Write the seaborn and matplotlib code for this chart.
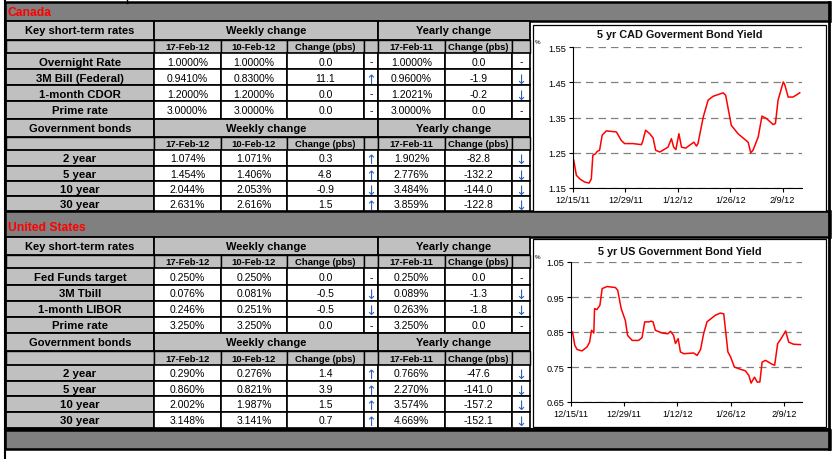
import matplotlib
matplotlib.use("Agg")
import matplotlib.pyplot as plt
import seaborn as sns
import pandas as pd
from matplotlib.patches import Rectangle

FONT = ["Liberation Sans", "DejaVu Sans"]

# ---------------- data ----------------
date_cols = ["17-Feb-12", "10-Feb-12", "17-Feb-11"]

ca_short_labels = ["Overnight Rate", "3M Bill (Federal)", "1-month CDOR", "Prime rate"]
ca_short_cur = [1.0000, 0.9410, 1.2000, 3.0000]
ca_short_prev = [1.0000, 0.8300, 1.2000, 3.0000]
ca_short_wchg = [0.0, 11.1, 0.0, 0.0]
ca_short_yago = [1.0000, 0.9600, 1.2021, 3.0000]
ca_short_ychg = [0.0, -1.9, -0.2, 0.0]

ca_bond_labels = ["2 year", "5 year", "10 year", "30 year"]
ca_bond_cur = [1.074, 1.454, 2.044, 2.631]
ca_bond_prev = [1.071, 1.406, 2.053, 2.616]
ca_bond_wchg = [0.3, 4.8, -0.9, 1.5]
ca_bond_yago = [1.902, 2.776, 3.484, 3.859]
ca_bond_ychg = [-82.8, -132.2, -144.0, -122.8]

us_short_labels = ["Fed Funds target", "3M Tbill", "1-month LIBOR", "Prime rate"]
us_short_cur = [0.250, 0.076, 0.246, 3.250]
us_short_prev = [0.250, 0.081, 0.251, 3.250]
us_short_wchg = [0.0, -0.5, -0.5, 0.0]
us_short_yago = [0.250, 0.089, 0.263, 3.250]
us_short_ychg = [0.0, -1.3, -1.8, 0.0]

us_bond_labels = ["2 year", "5 year", "10 year", "30 year"]
us_bond_cur = [0.290, 0.860, 2.002, 3.148]
us_bond_prev = [0.276, 0.821, 1.987, 3.141]
us_bond_wchg = [1.4, 3.9, 1.5, 0.7]
us_bond_yago = [0.766, 2.270, 3.574, 4.669]
us_bond_ychg = [-47.6, -141.0, -157.2, -152.1]

# chart series: days since 12/15/11
cad_days = [0.2, 0.9, 1.8, 3.1, 4.3, 4.9, 5.3, 6.0, 6.5, 7.1, 7.8, 8.9, 11.6, 12.9, 13.8,
            16.0, 18.3, 18.7, 19.4, 20.5, 21.4, 22.1, 23.2, 25.4, 26.3, 26.9, 27.5, 28.3,
            29.0, 30.1, 32.3, 33.0, 33.4, 34.8, 36.1, 37.4, 40.1, 40.8, 42.3, 44.1, 46.8,
            47.5, 48.1, 49.5, 50.5, 51.7, 53.5, 54.1, 54.8, 56.2, 56.6, 57.5, 58.8, 60.6]
cad_yield = [1.229, 1.186, 1.176, 1.167, 1.164, 1.176, 1.243, 1.247, 1.254, 1.257, 1.300,
             1.312, 1.309, 1.285, 1.276, 1.276, 1.273, 1.285, 1.314, 1.304, 1.292, 1.257,
             1.252, 1.266, 1.290, 1.266, 1.259, 1.304, 1.266, 1.263, 1.280, 1.269, 1.276,
             1.351, 1.399, 1.410, 1.420, 1.413, 1.328, 1.304, 1.280, 1.250, 1.257, 1.295,
             1.354, 1.347, 1.330, 1.333, 1.399, 1.451, 1.443, 1.408, 1.408, 1.420]

us_days = [0.4, 1.0, 1.6, 2.9, 4.2, 4.9, 5.4, 6.0, 6.2, 6.8, 7.6, 8.2, 9.5, 11.7, 12.3,
           13.2, 14.3, 14.9, 16.1, 17.8, 18.7, 19.4, 20.5, 21.1, 21.6, 22.2, 24.0, 25.5,
           26.2, 27.0, 27.5, 28.2, 28.8, 29.7, 32.3, 33.2, 34.1, 34.9, 35.8, 38.0, 39.3,
           40.2, 41.3, 42.0, 43.0, 44.2, 45.9, 46.8, 47.4, 48.3, 49.0, 49.7, 50.3, 51.2,
           52.9, 53.6, 54.4, 55.3, 56.5, 57.3, 58.6, 60.4]
us_yield = [0.850, 0.812, 0.800, 0.796, 0.807, 0.821, 0.855, 0.847, 0.917, 0.914, 0.926,
            0.974, 0.980, 0.977, 0.969, 0.917, 0.883, 0.840, 0.826, 0.826, 0.834, 0.879,
            0.879, 0.881, 0.879, 0.855, 0.847, 0.845, 0.852, 0.840, 0.817, 0.831, 0.793,
            0.788, 0.790, 0.783, 0.800, 0.845, 0.879, 0.898, 0.904, 0.902, 0.793, 0.779,
            0.750, 0.745, 0.739, 0.726, 0.704, 0.721, 0.707, 0.707, 0.764, 0.769, 0.758,
            0.755, 0.817, 0.831, 0.853, 0.821, 0.815, 0.814]

tick_days = [0, 14, 28, 42, 56]
tick_labels = ["12/15/11", "12/29/11", "1/12/12", "1/26/12", "2/9/12"]
cad_yticks = [1.15, 1.25, 1.35, 1.45, 1.55]
us_yticks = [0.65, 0.75, 0.85, 0.95, 1.05]

# ---------------- layout ----------------
W, H = 837, 460
fig = plt.figure(figsize=(W / 100, H / 100), dpi=100)
base = fig.add_axes([0, 0, 1, 1])
base.set_xlim(0, W)
base.set_ylim(H, 0)
base.axis("off")

LG = "#C0C0C0"
DG = "#808080"
BLUE = "#2E5FC0"
cols = [6, 154, 221, 287, 364, 378, 445, 512, 530]


def cell(x0, y0, x1, y1, fc, lw=1.3):
    base.add_patch(Rectangle((x0, y0), x1 - x0, y1 - y0, facecolor=fc,
                             edgecolor="black", linewidth=lw))


def txt(x, y, s, size=7.5, bold=False, color="black", ha="center"):
    base.text(x, y, s, fontsize=size, fontweight="bold" if bold else "normal",
              color=color, ha=ha, va="center", family=FONT)


def arrow(v):
    if v > 0:
        return "\u2191", BLUE
    if v < 0:
        return "\u2193", BLUE
    return "-", "black"


def block(y_h1, y_h2, ys, head, labels, cur, prev, wchg, yago, ychg, dec):
    c = cols
    cell(c[0], y_h1, c[1], y_h2, LG)
    txt((c[0] + c[1]) / 2, (y_h1 + y_h2) / 2, head, 8, True)
    cell(c[1], y_h1, c[5], y_h2, LG)
    txt((c[1] + c[5]) / 2, (y_h1 + y_h2) / 2, "Weekly change", 8, True)
    cell(c[5], y_h1, c[8], y_h2, LG)
    txt((c[5] + c[8]) / 2, (y_h1 + y_h2) / 2, "Yearly change", 8, True)
    subs = ["", date_cols[0], date_cols[1], "Change (pbs)", "", date_cols[2], "Change (pbs)", ""]
    for i in range(8):
        cell(c[i], y_h2, c[i + 1], ys[0], LG, 1.0)
        if subs[i]:
            txt((c[i] + c[i + 1]) / 2, (y_h2 + ys[0]) / 2 + 0.5, subs[i], 6.8, True)
    fmt = "{:.%df}%%" % dec
    for r in range(len(labels)):
        y0, y1 = ys[r], ys[r + 1]
        yc = (y0 + y1) / 2 + 0.5
        cell(c[0], y0, c[1], y1, LG)
        txt((c[0] + c[1]) / 2, yc, labels[r], 8.2, True)
        for i in range(1, 8):
            cell(c[i], y0, c[i + 1], y1, "white", 1.2)
        vals = [fmt.format(cur[r]), fmt.format(prev[r]), "{:.1f}".format(wchg[r]), None,
                fmt.format(yago[r]), "{:.1f}".format(ychg[r]), None]
        for i, v in enumerate(vals):
            if v is not None:
                txt((c[i + 1] + c[i + 2]) / 2, yc, v, 7.5)
        for ci, chg in ((4, wchg[r]), (7, ychg[r])):
            s, col = arrow(chg)
            if s == "-":
                txt((c[ci] + c[ci + 1]) / 2, yc, s, 7.5, False, col)
            else:
                base.text((c[ci] + c[ci + 1]) / 2, yc + 1.5, s, fontsize=9.5, color=col,
                          ha="center", va="center", family=["DejaVu Sans"])


# top line stub
base.plot([127, 127], [0, 4], color="black", lw=1)
# white chart regions
base.add_patch(Rectangle((530, 22), 300, 190, facecolor="white", edgecolor="none"))
base.add_patch(Rectangle((530, 238), 300, 192, facecolor="white", edgecolor="none"))

# bands
cell(5, 3, 830, 22, DG, 1.8)
txt(8, 13, "Canada", 8.7, True, "#FF0000", "left")
cell(5, 212, 830, 238, DG, 1.8)
txt(8, 228, "United States", 8.7, True, "#FF0000", "left")
cell(5, 431, 830, 450, DG, 1.8)

block(22, 41, [54, 70, 86, 102, 120], "Key short-term rates", ca_short_labels,
      ca_short_cur, ca_short_prev, ca_short_wchg, ca_short_yago, ca_short_ychg, 4)
block(120, 138, [151, 167, 182, 197, 212], "Government bonds", ca_bond_labels,
      ca_bond_cur, ca_bond_prev, ca_bond_wchg, ca_bond_yago, ca_bond_ychg, 3)
block(238, 256, [269, 286, 302, 318, 334], "Key short-term rates", us_short_labels,
      us_short_cur, us_short_prev, us_short_wchg, us_short_yago, us_short_ychg, 3)
block(334, 352, [366, 382, 397, 413, 429], "Government bonds", us_bond_labels,
      us_bond_cur, us_bond_prev, us_bond_wchg, us_bond_yago, us_bond_ychg, 3)

# outer lines
base.plot([5, 5], [0, 460], color="black", lw=1.5)
base.plot([829.5, 829.5], [3, 450], color="black", lw=2)
base.plot([5, 830], [430, 430], color="black", lw=1.5)

# chart boxes
base.add_patch(Rectangle((533, 26), 293, 186, facecolor="white", edgecolor="black", linewidth=0.9))
base.add_patch(Rectangle((533, 240), 293, 188, facecolor="white", edgecolor="black", linewidth=0.9))


def chart(left, right, top, bottom, days, vals, yticks, xmax, title, title_y, pct_y):
    ax = fig.add_axes([left / W, 1 - bottom / H, (right - left) / W, (bottom - top) / H])
    ax.set_facecolor("none")
    df = pd.DataFrame({"day": days, "val": vals})
    sns.lineplot(data=df, x="day", y="val", ax=ax, color="#FF0000", lw=1.1)
    ax.set_xlim(0, xmax)
    ax.set_ylim(yticks[0], yticks[-1])
    ax.set_yticks(yticks)
    ax.set_yticklabels(["%.2f" % v for v in yticks], fontsize=6.6, family=FONT)
    ax.set_xticks(tick_days)
    ax.set_xticklabels(tick_labels, fontsize=6.6, family=FONT)
    ax.set_xlabel("")
    ax.set_ylabel("")
    for s in ("top", "right"):
        ax.spines[s].set_visible(False)
    for s in ("left", "bottom"):
        ax.spines[s].set_color("black")
        ax.spines[s].set_linewidth(0.8)
    ax.tick_params(axis="both", direction="out", length=3, width=0.8, pad=2, colors="black")
    ax.yaxis.grid(True, linestyle=(0, (6, 4)), color="#808080", linewidth=0.9)
    ax.xaxis.grid(False)
    ax.set_axisbelow(True)
    base.text((533 + 826) / 2, title_y, title, fontsize=7.8, fontweight="bold",
              ha="center", va="center", family=FONT, color="#111111")
    base.text(538, pct_y, "%", fontsize=4.5, ha="center", va="center", family=FONT)
    return ax


chart(573, 802, 48, 189, cad_days, cad_yield, cad_yticks, 61.2,
      "5 yr CAD Goverment Bond Yield", 35, 43)
chart(571, 802, 263, 403, us_days, us_yield, us_yticks, 60.8,
      "5 yr US Government Bond Yield", 252, 258)

fig.savefig("out.png", dpi=100)
